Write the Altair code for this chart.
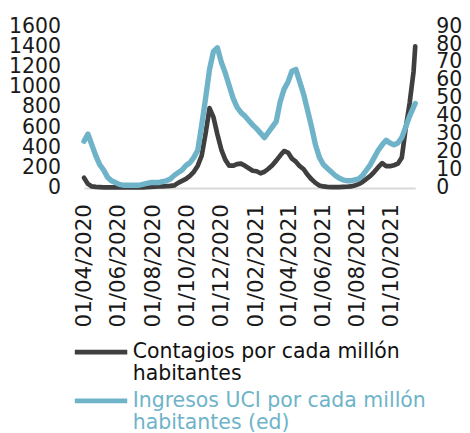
import altair as alt
import pandas as pd

# Weekly dates (plus the final reading)
dates = list(pd.date_range("2020-04-01", periods=85, freq="7D").strftime("%Y-%m-%d")) + ["2021-11-13"]

contagios = [
    100, 40, 15, 10, 8, 6, 5, 5, 5, 5,
    5, 5, 5, 5, 5, 6, 8, 10, 12, 15,
    15, 18, 20, 25, 50, 70, 90, 120, 160, 220,
    320, 540, 790, 700, 530, 380, 280, 220, 220, 235,
    240, 220, 195, 170, 165, 145, 160, 190, 225, 270,
    320, 365, 350, 290, 260, 215, 185, 130, 85, 50,
    25, 15, 10, 8, 8, 8, 10, 12, 15, 25,
    38, 60, 90, 120, 160, 205, 245, 215, 215, 225,
    240, 300, 590, 840, 1150, 1400,
]

uci = [
    26, 30, 24, 18, 13, 10, 6, 4, 3, 2,
    1.5, 1.5, 1.5, 1.5, 1.5, 2, 2.5, 3, 3, 3,
    3.5, 4, 5, 7, 8.5, 10, 12.5, 14, 17, 21,
    35, 50, 66, 76, 78, 70, 64, 57, 50, 45,
    42, 40, 37.5, 35, 33, 30.5, 28, 31, 34, 37,
    48, 55, 59, 65, 66, 59, 52, 43, 34, 24,
    17, 13, 11, 9, 7, 5.5, 4.5, 4, 4, 4.5,
    5, 7, 10, 13, 17, 21, 24, 26.5, 25, 24,
    25, 28, 34, 40, 45, 47,
]

name_c = "Contagios por cada millón habitantes"
name_u = "Ingresos UCI por cada millón habitantes (ed)"

tick_dates = [(2020, 4), (2020, 6), (2020, 8), (2020, 10), (2020, 12),
              (2021, 2), (2021, 4), (2021, 6), (2021, 8), (2021, 10)]
left_ticks = [0, 200, 400, 600, 800, 1000, 1200, 1400, 1600]
right_ticks = [0, 10, 20, 30, 40, 50, 60, 70, 80, 90]

DARK = "#3f3f3f"
BLUE = "#6fb3c9"
FONT = "DejaVu Sans"
FS = 21

df_c = pd.DataFrame({"fecha": dates, "valor": contagios, "serie": name_c})
df_u = pd.DataFrame({"fecha": dates, "valor": uci, "serie": name_u})

x_enc = alt.X(
    "fecha:T",
    scale=alt.Scale(type="utc", nice=False, padding=0),
    axis=alt.Axis(
        values=[alt.DateTime(year=y, month=m, date=1, utc=True) for y, m in tick_dates],
        format="%d/%m/%Y",
        labelAngle=270,
        labelAlign="right",
        labelBaseline="middle",
        labelPadding=16,
        labelFlush=False,
        labelOverlap=False,
        labelFont=FONT,
        labelFontSize=FS + 1,
        labelColor="#1a1a1a",
        ticks=False,
        grid=False,
        domainColor="#d9d9d9",
        domainWidth=2,
        title=None,
    ),
)

def legend(y, color, expr):
    return alt.Legend(
        title=None,
        orient="none",
        legendX=-12,
        legendY=y,
        symbolType="stroke",
        symbolSize=2900,
        symbolStrokeWidth=5,
        labelFont=FONT,
        labelFontSize=FS,
        labelColor=color,
        labelLimit=500,
        labelOffset=3,
        labelBaseline="middle",
        labelExpr=expr,
        padding=0,
    )

def y_axis(ticks, orient, pad):
    return alt.Axis(values=ticks, orient=orient, title=None, ticks=False, domain=False,
                    grid=False, labelPadding=pad, labelFont=FONT, labelFontSize=FS,
                    labelColor="#1a1a1a", labelOverlap=False, format="d")

black = alt.Chart(df_c).mark_line(strokeWidth=4.8, strokeJoin="round", strokeCap="round").encode(
    x=x_enc,
    y=alt.Y("valor:Q", scale=alt.Scale(domain=[0, 1600], nice=False), axis=y_axis(left_ticks, "left", 24)),
    color=alt.Color("serie:N", scale=alt.Scale(domain=[name_c], range=[DARK]),
                    legend=legend(305, "#111111", "['Contagios por cada millón', 'habitantes']")),
)

blue = alt.Chart(df_u).mark_line(strokeWidth=5.5, strokeJoin="round", strokeCap="round").encode(
    x=x_enc,
    y=alt.Y("valor:Q", scale=alt.Scale(domain=[0, 90], nice=False), axis=y_axis(right_ticks, "right", 21)),
    color=alt.Color("serie:N", scale=alt.Scale(domain=[name_u], range=[BLUE]),
                    legend=legend(355, BLUE, "['Ingresos UCI por cada millón', 'habitantes (ed)']")),
)

chart = (
    alt.layer(black, blue)
    .resolve_scale(y="independent", color="independent")
    .properties(width=340, height=166, padding={"left": 0, "top": 2, "right": 0, "bottom": 0})
    .configure_view(stroke=None)
)

chart.save("out.html", embed_options={"renderer": "svg", "actions": False})
